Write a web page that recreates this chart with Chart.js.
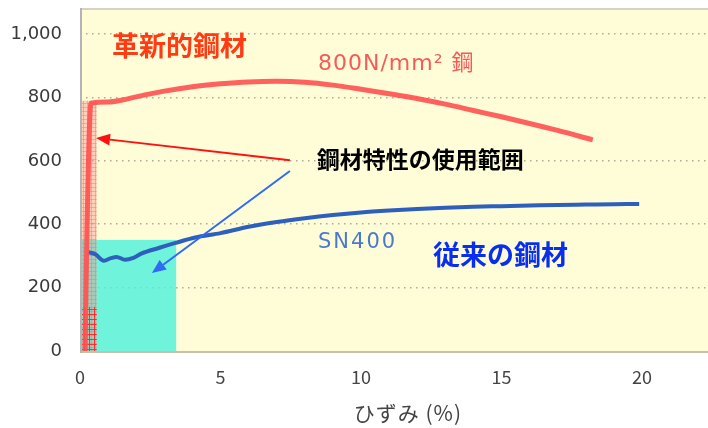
<!DOCTYPE html>
<html>
<head>
<meta charset="utf-8">
<script src="https://cdn.jsdelivr.net/npm/chart.js@4"></script>
<style>
  html, body { margin: 0; padding: 0; background: #fff; }
</style>
</head>
<body>
<canvas id="chart" width="708" height="428"></canvas>
<script>
// 応力-ひずみ曲線 (ひずみ %, 応力 N/mm²)
const redStrain = [0.18, 0.25, 0.39, 1.0, 1.5, 2, 3, 4, 5, 6, 7, 8, 9, 10, 11, 12, 13, 14, 15, 16, 17, 18.25];
const redStress = [0, 390, 782, 786, 792, 802, 820, 834, 843, 849, 851, 848, 839, 826, 812, 797, 779, 759, 739, 718, 696, 666];

const blueStrain = [0.3, 0.55, 0.85, 1.1, 1.3, 1.6, 1.9, 2.2, 2.8, 3.4, 4.1, 5, 6, 7, 8, 9, 10, 11, 12, 13, 14, 15, 16, 17, 18, 19, 19.9];
const blueStress = [312, 305, 285, 293, 297, 288, 294, 308, 325, 341, 358, 372, 392, 407, 419, 429, 437, 443, 448, 452, 455, 457, 459, 461, 462, 463, 464];

// 使用範囲 (ひずみ, 応力)
const redRangeX = [0, 0.6];
const redRangeY = [790, 790];
const redGridY = [140, 140];
const cyanRangeX = [0, 3.43];
const cyanRangeY = [350, 350];

const xTicks = [0, 5, 10, 15, 20];
const yTicks = [0, 200, 400, 600, 800, 1000];

const pts = (xs, ys) => xs.map((x, i) => ({ x: x, y: ys[i] }));

// ハッチング用パターン
function makePattern(bg, line, step) {
    const c = document.createElement('canvas');
    c.width = step; c.height = step;
    const g = c.getContext('2d');
    g.fillStyle = bg;
    g.fillRect(0, 0, step, step);
    g.fillStyle = line;
    g.fillRect(step - 1, 0, 1, step);
    g.fillRect(0, step - 1, step, 1);
    return g.createPattern(c, 'repeat');
}

const JP = '"Noto Sans CJK JP", "Noto Sans", sans-serif';
const DV = '"DejaVu Sans", "Noto Sans CJK JP", sans-serif';

// 注記テキスト
const notes = [
    { text: '革新的鋼材', x: 1.14, y: 962, color: '#ff3b14', font: 'bold 27px ' + JP, spacing: '0px' },
    { text: '800N/mm² 鋼', x: 8.47, y: 905, color: '#f65a5a', font: '22px ' + DV, spacing: '1px' },
    { text: '鋼材特性の使用範囲', x: 8.43, y: 606, color: '#000', font: 'bold 23px ' + JP, spacing: '0px' },
    { text: 'SN400', x: 8.47, y: 342, color: '#4a7acb', font: '21px ' + DV, spacing: '2px' },
    { text: '従来の鋼材', x: 12.56, y: 303, color: '#0a2ef0', font: 'bold 27px ' + JP, spacing: '0px' },
    { text: 'ひずみ (%)', x: 11.67, y: -196, color: '#444', font: '21px ' + JP, spacing: '1px', align: 'center' }
];

const arrows = [
    { from: [7.47, 602], to: [0.57, 672], color: '#ff1010' },
    { from: [7.47, 568], to: [2.56, 246], color: '#2f6bf5' }
];

const decorPlugin = {
    id: 'decor',
    beforeDraw(chart) {
        const { ctx, chartArea: a } = chart;
        ctx.save();
        ctx.fillStyle = '#fffcd8';
        ctx.fillRect(a.left, a.top, a.right - a.left, a.bottom - a.top);
        ctx.restore();
    },
    afterDatasetsDraw(chart) {
        const { ctx, chartArea: a, scales } = chart;
        const sx = scales.x, sy = scales.y;
        ctx.save();
        // 枠線
        ctx.lineWidth = 2;
        ctx.strokeStyle = '#d6d3c4';
        ctx.beginPath(); ctx.moveTo(a.left, a.top - 1); ctx.lineTo(a.right, a.top - 1); ctx.stroke();
        ctx.strokeStyle = '#c4c1ad';
        ctx.beginPath(); ctx.moveTo(a.left, a.bottom + 1); ctx.lineTo(a.right, a.bottom + 1); ctx.stroke();
        ctx.strokeStyle = '#b4b4b4';
        ctx.beginPath(); ctx.moveTo(a.left + 1, a.top - 2); ctx.lineTo(a.left + 1, a.bottom + 2); ctx.stroke();

        // 矢印
        arrows.forEach(ar => {
            const x1 = sx.getPixelForValue(ar.from[0]), y1 = sy.getPixelForValue(ar.from[1]);
            const x2 = sx.getPixelForValue(ar.to[0]), y2 = sy.getPixelForValue(ar.to[1]);
            const ang = Math.atan2(y2 - y1, x2 - x1);
            const len = 14, half = 6;
            const bx = x2 - Math.cos(ang) * len, by = y2 - Math.sin(ang) * len;
            ctx.strokeStyle = ar.color;
            ctx.fillStyle = ar.color;
            ctx.lineWidth = 2;
            ctx.beginPath(); ctx.moveTo(x1, y1); ctx.lineTo(bx, by); ctx.stroke();
            ctx.beginPath();
            ctx.moveTo(x2, y2);
            ctx.lineTo(bx + Math.sin(ang) * half, by - Math.cos(ang) * half);
            ctx.lineTo(bx - Math.sin(ang) * half, by + Math.cos(ang) * half);
            ctx.closePath();
            ctx.fill();
        });

        // テキスト
        ctx.textBaseline = 'middle';
        notes.forEach(n => {
            ctx.font = n.font;
            ctx.fillStyle = n.color;
            ctx.letterSpacing = n.spacing;
            ctx.textAlign = n.align || 'left';
            ctx.fillText(n.text, sx.getPixelForValue(n.x), sy.getPixelForValue(n.y));
        });
        ctx.restore();
    }
};

const chart = new Chart(document.getElementById('chart'), {
    type: 'line',
    data: {
        datasets: [{
            label: '800N/mm² 鋼',
            data: pts(redStrain, redStress),
            borderColor: 'rgba(255, 80, 80, 0.9)',
            borderWidth: 5,
            pointRadius: 0,
            cubicInterpolationMode: 'monotone',
            fill: false,
            order: 0
        }, {
            label: 'SN400',
            data: pts(blueStrain, blueStress),
            borderColor: '#2d5fbd',
            borderWidth: 4,
            pointRadius: 0,
            cubicInterpolationMode: 'monotone',
            fill: false,
            order: 1
        }, {
            label: 'red grid',
            data: pts(redRangeX, redGridY),
            borderWidth: 0,
            pointRadius: 0,
            backgroundColor: makePattern('rgba(0,0,0,0)', 'rgba(255, 30, 30, 0.85)', 5),
            fill: 'origin',
            order: 2
        }, {
            label: 'red range',
            data: pts(redRangeX, redRangeY),
            borderWidth: 0,
            pointRadius: 0,
            backgroundColor: makePattern('rgba(255, 140, 140, 0.4)', 'rgba(255, 110, 110, 0.45)', 4),
            fill: 'origin',
            order: 3
        }, {
            label: 'cyan range',
            data: pts(cyanRangeX, cyanRangeY),
            borderWidth: 0,
            pointRadius: 0,
            backgroundColor: 'rgba(80, 240, 220, 0.82)',
            fill: 'origin',
            order: 4
        }]
    },
    options: {
        responsive: false,
        animation: false,
        layout: { padding: { top: 10, right: 0, left: 0, bottom: 0 } },
        plugins: {
            legend: { display: false },
            tooltip: { enabled: false }
        },
        scales: {
            x: {
                type: 'linear',
                min: 0,
                max: 22.35,
                afterBuildTicks: s => { s.ticks = xTicks.map(v => ({ value: v })); },
                afterFit: s => { s.height = 77; s.paddingLeft = 0; s.paddingRight = 0; },
                grid: { display: false, drawTicks: false },
                border: { display: false },
                ticks: {
                    padding: 15,
                    color: '#444',
                    font: { family: JP, size: 18 }
                }
            },
            y: {
                type: 'linear',
                min: 0,
                max: 1076,
                afterBuildTicks: s => { s.ticks = yTicks.map(v => ({ value: v })); },
                afterFit: s => { s.width = 80; s.paddingTop = 0; s.paddingBottom = 0; },
                grid: {
                    drawTicks: false,
                    lineWidth: 1.5,
                    color: c => (c.tick && c.tick.value > 0) ? '#aeac98' : 'rgba(0,0,0,0)'
                },
                border: { display: false, dash: [1.5, 4.5] },
                ticks: {
                    padding: 18,
                    color: '#3a3a3a',
                    font: { family: '"DejaVu Sans", sans-serif', size: 18 },
                    callback: v => v.toLocaleString('en-US')
                }
            }
        }
    },
    plugins: [decorPlugin]
});
</script>
</body>
</html>
